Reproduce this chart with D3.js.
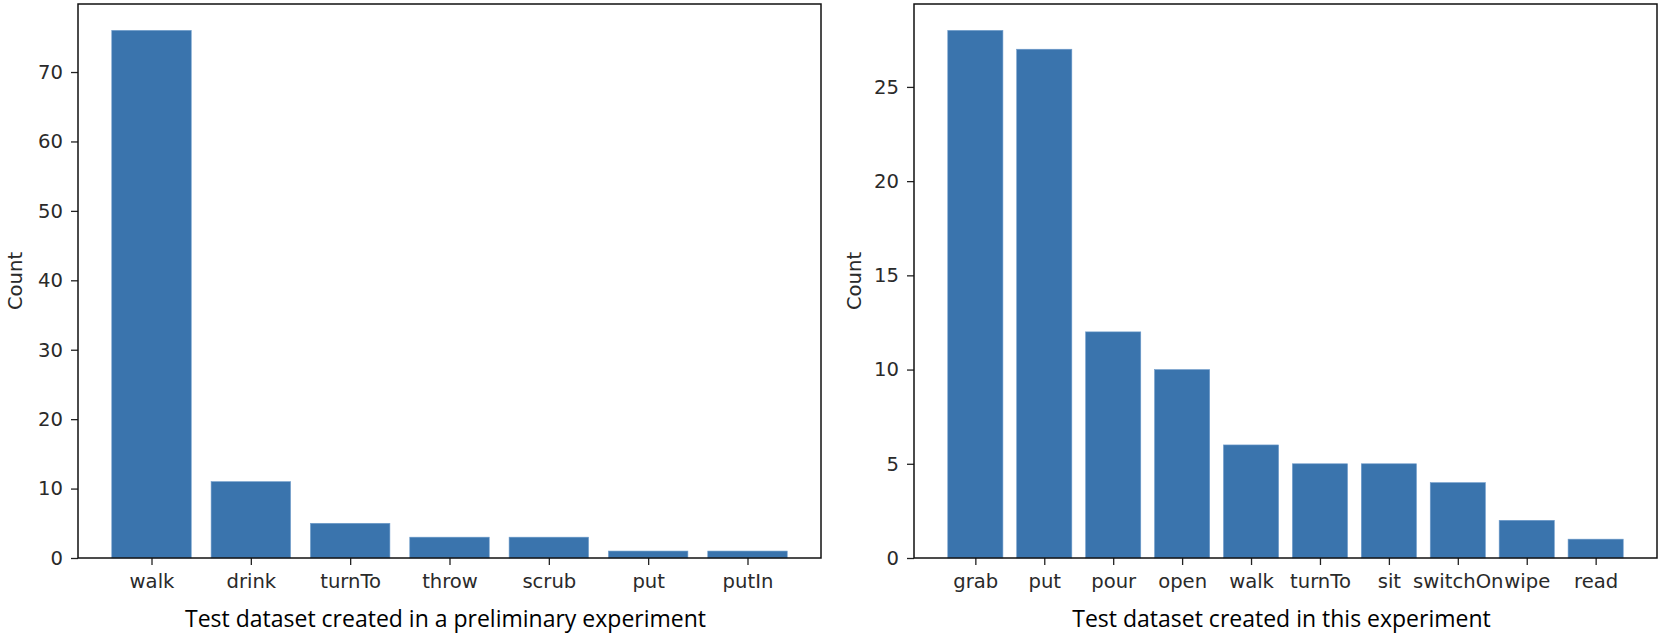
<!DOCTYPE html>
<html><head><meta charset="utf-8">
<script src="https://cdn.jsdelivr.net/npm/d3@7"></script>
<style>body{margin:0;background:#fff}</style>
</head><body>
<svg id="chart" width="1661" height="640"></svg>
<script>
const leftCategories = ["walk","drink","turnTo","throw","scrub","put","putIn"];
const leftValues = [76, 11, 5, 3, 3, 1, 1];
const leftTicks = [0,10,20,30,40,50,60,70];
const leftTitle = "Test dataset created in a preliminary experiment";

const rightCategories = ["grab","put","pour","open","walk","turnTo","sit","switchOn","wipe","read"];
const rightValues = [28, 27, 12, 10, 6, 5, 5, 4, 2, 1];
const rightTicks = [0,5,10,15,20,25];
const rightTitle = "Test dataset created in this experiment";

const yLabel = "Count";
const barColor = "#3a74ad";

const svg = d3.select("#chart");

function panel(cfg) {
  const {x0, x1, y0, y1, cats, vals, ticks, title, ylabelX} = cfg;
  const n = cats.length;
  const pad = 0.05 * (n - 1 + 0.8);
  const x = d3.scaleLinear().domain([-0.4 - pad, n - 1 + 0.4 + pad]).range([x0, x1]);
  const yMax = d3.max(vals) * 1.05;
  const y = d3.scaleLinear().domain([0, yMax]).range([y1, y0]);
  const g = svg.append("g");

  g.selectAll("rect.bar").data(vals).join("rect")
    .attr("class","bar")
    .attr("x", (d,i) => x(i - 0.4))
    .attr("width", (d,i) => x(i + 0.4) - x(i - 0.4))
    .attr("y", d => y(d))
    .attr("height", d => y(0) - y(d))
    .attr("fill", barColor)
    .attr("stroke", "#6f9ccb").attr("stroke-width", 0.6);

  const yAxis = d3.axisLeft(y).tickValues(ticks).tickSize(7).tickPadding(8).tickFormat(d3.format("d"));
  const ya = g.append("g").attr("transform", `translate(${x0},0)`).call(yAxis);
  ya.select(".domain").remove();
  ya.selectAll("line").attr("stroke","#222").attr("stroke-width",1.3);
  ya.selectAll("text").attr("font-family","DejaVu Sans").attr("font-size","19.6px").attr("fill","#2a2a2a");

  const xAxis = d3.axisBottom(x).tickValues(d3.range(n)).tickSize(7).tickPadding(9).tickFormat(i => cats[i]);
  const xa = g.append("g").attr("transform", `translate(0,${y1})`).call(xAxis);
  xa.select(".domain").remove();
  xa.selectAll("line").attr("stroke","#222").attr("stroke-width",1.3);
  xa.selectAll("text").attr("font-family","DejaVu Sans").attr("font-size","19.6px").attr("fill","#2a2a2a");

  g.append("rect").attr("x", x0).attr("y", y0).attr("width", x1 - x0).attr("height", y1 - y0)
    .attr("fill","none").attr("stroke","#111").attr("stroke-width",1.5);

  g.append("text").attr("x", (x0 + x1) / 2 - 4).attr("y", 627)
    .attr("text-anchor","middle").attr("font-family","Open Sans").attr("font-size","23px").attr("fill","#000")
    .text(title);

  g.append("text").attr("transform", `translate(${ylabelX},${(y0 + y1) / 2}) rotate(-90)`)
    .attr("text-anchor","middle").attr("font-family","DejaVu Sans").attr("font-size","19.6px").attr("fill","#2a2a2a")
    .text(yLabel);
}

panel({x0: 78, x1: 821, y0: 4, y1: 558, cats: leftCategories, vals: leftValues, ticks: leftTicks, title: leftTitle, ylabelX: 22});
panel({x0: 914, x1: 1657, y0: 4, y1: 558, cats: rightCategories, vals: rightValues, ticks: rightTicks, title: rightTitle, ylabelX: 861});
</script>
</body></html>
